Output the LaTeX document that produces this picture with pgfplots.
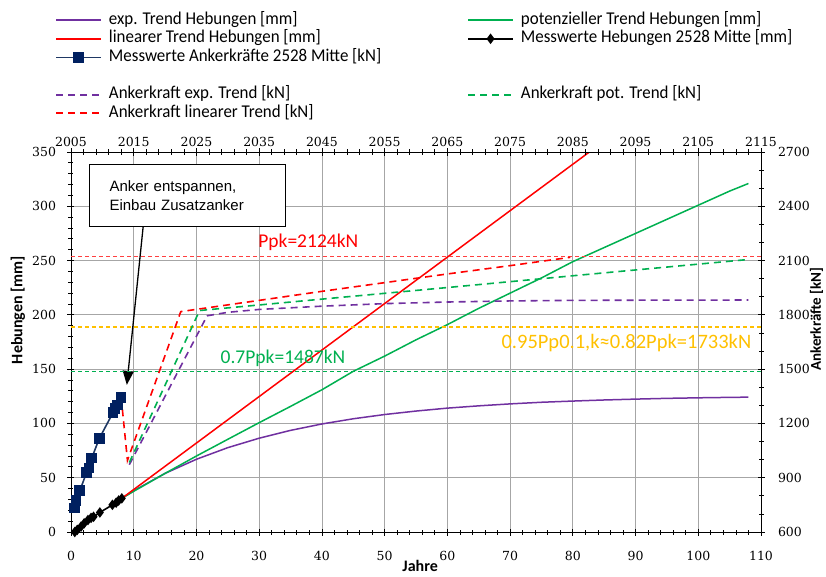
\documentclass[border=0pt]{standalone}
\usepackage{fontspec}
\setmainfont{Carlito}
\newfontfamily\legfont[FakeStretch=0.94]{Carlito}
\newfontfamily\tickfont{DejaVu Serif}
\newfontfamily\boxfont{Liberation Sans}
\usepackage{pgfplots}
\pgfplotsset{compat=1.18}
\usetikzlibrary{arrows.meta}

\definecolor{cPurple}{HTML}{7030A0}
\definecolor{cGreen}{HTML}{00B050}
\definecolor{cRed}{HTML}{FF0000}
\definecolor{cNavy}{HTML}{002060}
\definecolor{cNavyL}{HTML}{1F3864}
\definecolor{cYellow}{HTML}{FFC000}
\definecolor{cGrid}{HTML}{A6A6A6}

\pgfplotsset{
  trendS/.style={line width=1.5pt, no marks},
  trendD/.style={line width=1.6pt, no marks, dash pattern=on 7pt off 5pt},
  refD/.style={line width=1.2pt, no marks, dash pattern=on 4pt off 3pt},
  navyS/.style={cNavyL, line width=1.6pt, mark=square*, mark size=4.5pt, mark options={solid, fill=cNavy, draw=cNavy}},
  blackS/.style={black, line width=1.6pt, mark=diamond*, mark size=4pt, mark options={solid, fill=black}},
}

\pgfplotstableread{
x y
8.1 31
10 38
15 54
20 67
25 77.7
30 86.4
35 93.6
40 99.5
45 104.3
50 108.2
55 111.4
60 114.1
65 116.2
70 118.0
75 119.5
80 120.6
85 121.6
90 122.4
95 123.1
100 123.6
105 124.0
108 124.2
}\expTrend

\pgfplotstableread{
x y
8.1 31
10 37.5
15 54
20 70
25 85.4
30 100.7
35 115.7
40 131
45 148
50 162
55 177
60 191
65 206
70 220
75 234
80 249
85 262
90 275
95 288
100 301
105 314
108 321
}\potTrend

\pgfplotstableread{
x y
8.1 31
50 210.4
90 381.5
}\linTrend

\pgfplotstableread{
x y
0.6 0
1.0 2
1.6 5
2.1 8
2.7 11
3.2 13
3.6 14
4.6 18
6.6 25
7.2 27
7.6 29
8.1 31
}\messHeb

\pgfplotstableread{
x y
0.6 732
0.8 774
1.4 828
2.5 930
2.9 954
3.3 1008
4.5 1116
6.7 1260
7.0 1284
7.4 1302
8.0 1344
}\messKraft

\pgfplotstableread{
x y
8.0 1344
9.0 996
17.5 1818
30 1880
40 1930
50 1978
60 2026
70 2072
79.6 2118
}\kraftLin

\pgfplotstableread{
x y
9.3 984
20.5 1824
40 1887
60 1951
80 2016
108 2106
}\kraftPot

\pgfplotstableread{
x y
9.3 972
21.7 1795
25 1814
30 1830
40 1848
50 1862
60 1871
70 1877
80 1880
90 1881
108 1882
}\kraftExp

\begin{document}
\begin{tikzpicture}
\useasboundingbox (-71pt,-44pt) rectangle (755pt,532pt);
\draw[gray!70, line width=0.5pt, double, double distance=1.5pt] (-67pt,528pt) rectangle (790pt,-70pt);

\begin{axis}[
  width=690pt, height=380pt, scale only axis,
  xmin=0, xmax=110, ymin=0, ymax=350,
  xtick={0,10,...,110}, ytick={0,50,...,350},
  minor x tick num=4, minor y tick num=4,
  xtick pos=bottom, ytick pos=left,
  grid=major, major grid style={cGrid, line width=0.8pt},
  tick align=center, major tick length=7pt, minor tick length=5pt,
  every tick/.style={black, line width=0.8pt},
  axis line style={black, line width=0.8pt},
  tick label style={font=\tickfont\fontsize{12.5}{14}\selectfont},
  /pgf/number format/assume math mode=true,
  yticklabel shift=8pt, xticklabel shift=12pt,
  xlabel={Jahre}, ylabel={Hebungen [mm]},
  label style={font=\bfseries\fontsize{16}{18}\selectfont},
  xlabel style={at={(axis description cs:0.506,-0.09)}, anchor=center},
  ylabel style={at={(axis description cs:-0.0768,0.584)}, anchor=center},
]
\addplot[cPurple, trendS] table {\expTrend};
\addplot[cGreen, trendS] table {\potTrend};
\addplot[cRed, trendS] table {\linTrend};
\addplot[blackS] table {\messHeb};

\draw[-{Triangle[width=11pt,length=14pt]}, line width=1.3pt] (axis cs:11.5,281) -- (axis cs:8.9,135.5);
\node[draw=black, line width=0.8pt, fill=white, font=\boxfont\fontsize{15}{18.5}\selectfont, align=left, text width=155pt, inner xsep=20.5pt, minimum height=62pt] at (axis cs:18.5,310) {Anker entspannen,\\Einbau Zusatzanker};
\end{axis}

\begin{axis}[
  width=690pt, height=380pt, scale only axis,
  xmin=0, xmax=110, ymin=600, ymax=2700,
  axis x line*=top, axis y line*=right,
  xtick={0,10,...,110},
  xticklabels={2005,2015,2025,2035,2045,2055,2065,2075,2085,2095,2105,2115},
  ytick={600,900,...,2700},
  minor x tick num=4, minor y tick num=2,
  tick align=center, major tick length=7pt, minor tick length=5pt,
  every tick/.style={black, line width=0.8pt},
  axis line style={-, black, line width=0.8pt},
  tick label style={font=\tickfont\fontsize{12.5}{14}\selectfont},
  /pgf/number format/assume math mode=true,
  /pgf/number format/1000 sep={},
  yticklabel shift=10pt, xticklabel shift=-2pt,
  ylabel={Ankerkräfte [kN]},
  ylabel style={font=\bfseries\fontsize{15}{17}\selectfont, at={(axis description cs:1.0805,0.56)}, anchor=center},
  legend columns=2, legend cell align=left,
  legend image code/.code={\draw[mark repeat=2,mark phase=2,#1] plot coordinates {(0pt,0pt) (22.5pt,0pt) (45pt,0pt)};},
  legend style={at={(axis description cs:-0.0232,1.3684)}, anchor=north west, draw=none, fill=none, inner sep=0pt,
    font=\legfont\fontsize{18}{20}\selectfont,
    nodes={inner sep=0pt, text height=12pt, text depth=4pt},
    row sep=2.6pt,
    /tikz/every odd column/.append style={column sep=7pt},
    /tikz/every even column/.append style={column sep=86pt}},
]
\addlegendimage{cPurple, line width=1.5pt}\addlegendentry{exp. Trend Hebungen [mm]}
\addlegendimage{cGreen, line width=1.5pt}\addlegendentry{potenzieller Trend Hebungen [mm]}
\addlegendimage{cRed, line width=1.5pt}\addlegendentry{linearer Trend Hebungen [mm]}
\addlegendimage{blackS}\addlegendentry{Messwerte Hebungen 2528 Mitte [mm]}
\addlegendimage{navyS}\addlegendentry{Messwerte Ankerkräfte 2528 Mitte [kN]}
\addlegendimage{empty legend}\addlegendentry{}
\addlegendimage{empty legend}\addlegendentry{}
\addlegendimage{empty legend}\addlegendentry{}
\addlegendimage{color=cPurple, line width=1.8pt, dash pattern=on 7pt off 5pt}\addlegendentry{Ankerkraft exp. Trend [kN]}
\addlegendimage{color=cGreen, line width=1.8pt, dash pattern=on 7pt off 5pt}\addlegendentry{Ankerkraft pot. Trend [kN]}
\addlegendimage{color=cRed, line width=1.8pt, dash pattern=on 7pt off 5pt}\addlegendentry{Ankerkraft linearer Trend [kN]}

\addplot[forget plot, cRed!75, refD, line width=1pt] coordinates {(0,2124) (110,2124)};
\addplot[forget plot, cYellow, refD] coordinates {(0,1733) (110,1733)};
\addplot[forget plot, cGreen, refD] coordinates {(0,1487) (110,1487)};

\addplot[forget plot, cPurple, trendD] table {\kraftExp};
\addplot[forget plot, cGreen, trendD] table {\kraftPot};
\addplot[forget plot, cRed, trendD] table {\kraftLin};
\addplot[forget plot, navyS] table {\messKraft};

\node[text=cRed, anchor=west, font=\fontsize{19.5}{22}\selectfont] at (axis cs:29.3,2202) {Ppk=2124kN};
\node[text=cGreen, anchor=west, font=\fontsize{19.5}{22}\selectfont] at (axis cs:23.3,1560) {0.7Ppk=1487kN};
\node[text=cYellow, anchor=east, font=\fontsize{20.5}{22}\selectfont] at (axis cs:109,1644) {0.95Pp0.1,k≈0.82Ppk=1733kN};
\end{axis}
\end{tikzpicture}
\end{document}
